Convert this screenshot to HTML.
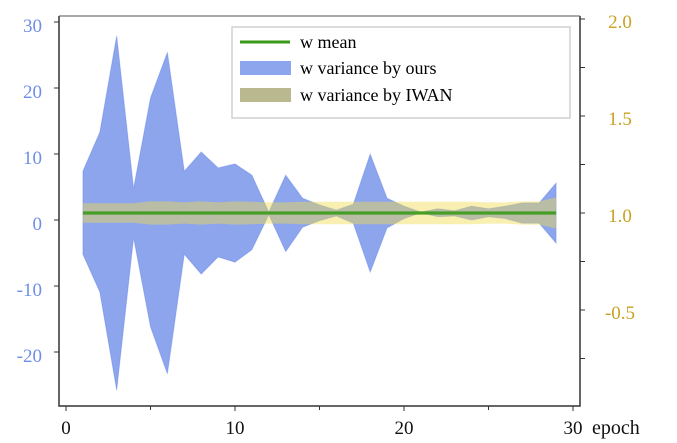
<!DOCTYPE html>
<html><head><meta charset="utf-8"><style>
body{margin:0;background:#fff;}
svg{display:block;font-family:"Liberation Serif",serif;}
</style></head><body>
<svg id="chart" width="677" height="443" viewBox="0 0 677 443" xmlns="http://www.w3.org/2000/svg">
<g id="plot"></g>
<g id="axes"></g>
<g>
<rect x="232" y="27" width="338" height="91" fill="#fff" fill-opacity="0.85" stroke="#d0d0d0" stroke-width="1.5"/>
<line x1="240" y1="42" x2="290" y2="42" stroke="#3a9a1a" stroke-width="3"/>
<text x="300" y="48" font-size="18">w mean</text>
<rect x="240" y="61" width="51" height="14" fill="#8da5ed"/>
<text x="300" y="74" font-size="18">w variance by ours</text>
<rect x="240" y="88" width="51" height="14" fill="#b9b88f"/>
<text x="300" y="101" font-size="18">w variance by IWAN</text>
</g>
</svg>
<script>
const epochs=[1,2,3,4,5,6,7,8,9,10,11,12,13,14,15,16,17,18,19,20,21,22,23,24,25,26,27,28,29];
const oursUpper=[7.4,13.3,27.9,4.8,18.5,25.4,7.4,10.3,7.9,8.5,6.8,1.2,6.8,3.3,2.3,1.5,2.4,10,3.3,2.1,1.2,1.7,1.4,2.1,1.7,2.1,2.6,2.6,5.6];
const oursLower=[-5.2,-10.9,-25.8,-2.7,-16.2,-23.3,-5.2,-8.2,-5.6,-6.4,-4.5,0.8,-4.8,-1.1,-0.1,0.6,-0.5,-7.9,-1.2,0.2,1.1,0.5,0.6,0,0.5,0.2,-0.5,-0.5,-3.5];
const iwanUpper=[1.05,1.05,1.05,1.05,1.06,1.06,1.055,1.06,1.055,1.06,1.058,1.055,1.055,1.058,1.058,1.058,1.058,1.058,1.058,1.058,1.058,1.058,1.058,1.058,1.055,1.055,1.06,1.06,1.08];
const iwanLower=[0.95,0.95,0.95,0.95,0.94,0.94,0.945,0.94,0.945,0.94,0.942,0.945,0.945,0.942,0.942,0.942,0.942,0.942,0.942,0.942,0.942,0.942,0.942,0.942,0.945,0.945,0.94,0.94,0.92];
const meanVals=epochs.map(()=>1.0);
const xTicks=[0,10,20,30];
const leftTicks=[30,20,10,0,-10,-20];
const rightTickVals=[2.0,1.75,1.5,1.25,1.0,0.75,0.5,0.25];
const rightLabels=["2.0","","1.5","","1.0","","-0.5",""];
const NS="http://www.w3.org/2000/svg";
const X=v=>66+16.9*v;
const YL=v=>220-6.6*v;
const YR=v=>213-194*(v-1);
function mk(tag,attrs,parent){const e=document.createElementNS(NS,tag);for(const k in attrs)e.setAttribute(k,attrs[k]);parent.appendChild(e);return e;}
const plot=document.getElementById('plot'),axes=document.getElementById('axes');
function band(up,lo,Y){let p=epochs.map((e,i)=>X(e)+','+Y(up[i]));let q=epochs.map((e,i)=>X(e)+','+Y(lo[i])).reverse();return p.concat(q).join(' ');}
const b=mk('polygon',{points:band(oursUpper,oursLower,YL),fill:'#4169e1','fill-opacity':0.6,stroke:'#4169e1','stroke-opacity':0.3},plot);


const y=mk('polygon',{points:band(iwanUpper,iwanLower,YR),fill:'#f0dc50','fill-opacity':0.45},plot);


const m=mk('polyline',{points:epochs.map((e,i)=>X(e)+','+YR(meanVals[i])).join(' '),fill:'none',stroke:'#3a9a1a','stroke-width':3.2,'stroke-opacity':0.9},plot);


mk('polyline',{points:'59,16 59,406 580,406 580,16',fill:'none',stroke:'#333','stroke-width':1.5},axes);
mk('line',{x1:59,y1:16,x2:580,y2:16,stroke:'#555','stroke-width':1},axes);
xTicks.forEach(v=>{mk('line',{x1:X(v),y1:406,x2:X(v),y2:411,stroke:'#333'},axes);
 const t=mk('text',{x:X(v),y:434,'font-size':19,'text-anchor':'middle',fill:'#111'},axes);t.textContent=v;
 
 });
[5,15,25].forEach(v=>mk('line',{x1:X(v),y1:406,x2:X(v),y2:410,stroke:'#333'},axes));
const xt=mk('text',{x:592,y:434,'font-size':20,fill:'#111'},axes);xt.textContent='epoch';


leftTicks.forEach(v=>{mk('line',{x1:54,y1:YL(v),x2:59,y2:YL(v),stroke:'#333'},axes);
 const t=mk('text',{x:42,y:YL(v)+10,'font-size':19,'text-anchor':'end',fill:'#6f8fe6'},axes);t.textContent=v;
 
 });
rightTickVals.forEach((v,i)=>{mk('line',{x1:580,y1:YR(v),x2:585,y2:YR(v),stroke:'#333'},axes);
 if(rightLabels[i]){const t=mk('text',{x:620,y:YR(v)+9,'font-size':19,'text-anchor':'middle',fill:'#c9a020'},axes);t.textContent=rightLabels[i];
 
 }});
</script>
</body></html>
